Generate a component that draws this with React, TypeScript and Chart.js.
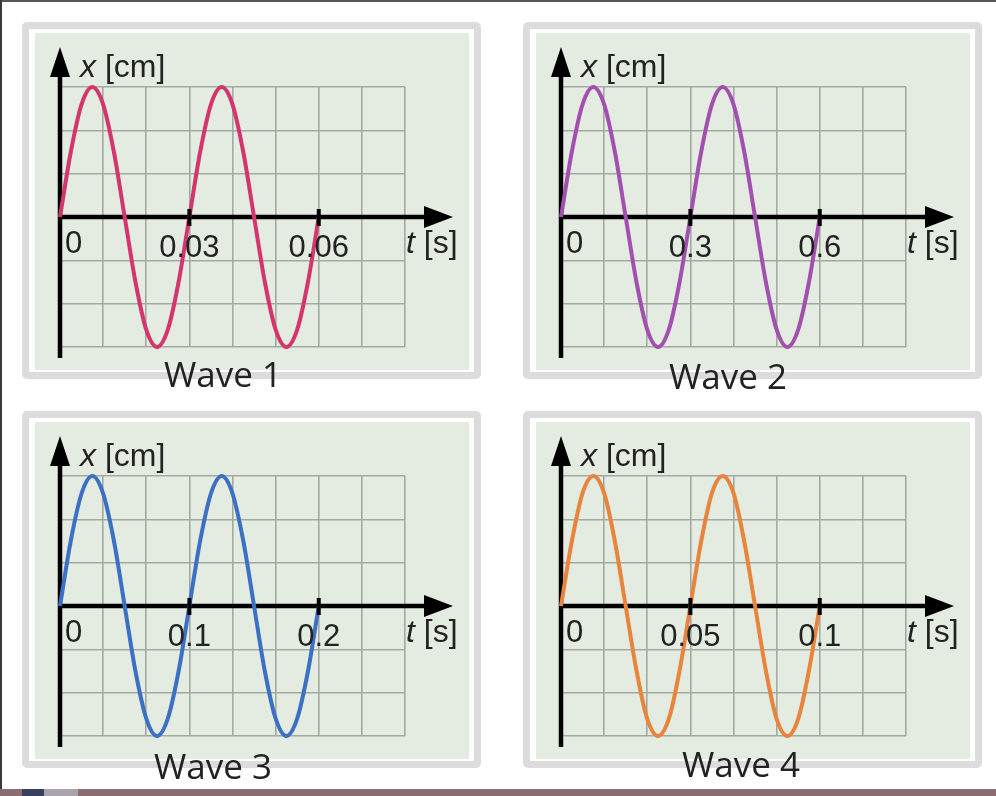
import { useEffect, useRef } from "react";
import { Chart, registerables } from "chart.js";

Chart.register(...registerables);

// values
const waveNames = ["Wave 1", "Wave 2", "Wave 3", "Wave 4"];
const periods = [0.03, 0.3, 0.1, 0.05];
const tickValues = [
  [0.03, 0.06],
  [0.3, 0.6],
  [0.1, 0.2],
  [0.05, 0.1],
];
const tickLabels = [
  ["0.03", "0.06"],
  ["0.3", "0.6"],
  ["0.1", "0.2"],
  ["0.05", "0.1"],
];
const gridSteps = [0.01, 0.1, 0.033333, 0.016667];
const xMax = [0.08, 0.8, 0.266667, 0.133333];
const yGrid = [-3, -2, -1, 0, 1, 2, 3];

// displacement in grid units (cm), same shape for every wave
const displacementCm = [
  0, 1.5, 2.6, 3, 2.6, 1.5, 0, -1.5, -2.6, -3, -2.6, -1.5, 0, 1.5, 2.6, 3, 2.6,
  1.5, 0, -1.5, -2.6, -3, -2.6, -1.5, 0,
];
const wave1Times = [
  0, 0.0025, 0.005, 0.0075, 0.01, 0.0125, 0.015, 0.0175, 0.02, 0.0225, 0.025,
  0.0275, 0.03, 0.0325, 0.035, 0.0375, 0.04, 0.0425, 0.045, 0.0475, 0.05,
  0.0525, 0.055, 0.0575, 0.06,
];
const wave2Times = [
  0, 0.025, 0.05, 0.075, 0.1, 0.125, 0.15, 0.175, 0.2, 0.225, 0.25, 0.275, 0.3,
  0.325, 0.35, 0.375, 0.4, 0.425, 0.45, 0.475, 0.5, 0.525, 0.55, 0.575, 0.6,
];
const wave3Times = [
  0, 0.0083, 0.0167, 0.025, 0.0333, 0.0417, 0.05, 0.0583, 0.0667, 0.075,
  0.0833, 0.0917, 0.1, 0.1083, 0.1167, 0.125, 0.1333, 0.1417, 0.15, 0.1583,
  0.1667, 0.175, 0.1833, 0.1917, 0.2,
];
const wave4Times = [
  0, 0.0042, 0.0083, 0.0125, 0.0167, 0.0208, 0.025, 0.0292, 0.0333, 0.0375,
  0.0417, 0.0458, 0.05, 0.0542, 0.0583, 0.0625, 0.0667, 0.0708, 0.075, 0.0792,
  0.0833, 0.0875, 0.0917, 0.0958, 0.1,
];
const waveTimes = [wave1Times, wave2Times, wave3Times, wave4Times];

// styling / layout
const waveColors = ["#d5356f", "#a34fb0", "#3c70c5", "#e8843b"];
const panelPos = [
  [22, 22],
  [523, 22],
  [22, 411],
  [523, 411],
];
const labelX = [201, 205, 191, 218];
const labelY = [365, 367, 368, 366];

const GRID = "#a1a9a1";
const TEXT = "#222";
const SANS = "'Liberation Sans', Arial, sans-serif";

function drawMixed(
  ctx: CanvasRenderingContext2D,
  italic: string,
  rest: string,
  x: number,
  y: number
) {
  ctx.textAlign = "left";
  ctx.font = `italic 32px ${SANS}`;
  ctx.fillText(italic, x, y);
  const w = ctx.measureText(italic).width;
  ctx.font = `32px ${SANS}`;
  ctx.fillText(rest, x + w, y);
}

function axesPlugin(i: number) {
  return {
    id: "axes" + i,
    beforeDatasetsDraw(chart: any) {
      const { ctx, chartArea: a, scales } = chart;
      const x0 = scales.x.getPixelForValue(0);
      const y0 = scales.y.getPixelForValue(0);
      ctx.save();
      ctx.strokeStyle = "#000";
      ctx.fillStyle = "#000";
      ctx.lineWidth = 4.5;
      ctx.beginPath();
      ctx.moveTo(x0, a.top - 14);
      ctx.lineTo(x0, a.bottom + 11);
      ctx.stroke();
      ctx.beginPath();
      ctx.moveTo(x0 - 2, y0);
      ctx.lineTo(a.right + 22, y0);
      ctx.stroke();
      // arrow heads
      ctx.beginPath();
      ctx.moveTo(x0, a.top - 40);
      ctx.lineTo(x0 - 10, a.top - 10);
      ctx.lineTo(x0 + 10, a.top - 10);
      ctx.closePath();
      ctx.fill();
      ctx.beginPath();
      ctx.moveTo(a.right + 48, y0);
      ctx.lineTo(a.right + 19, y0 - 11);
      ctx.lineTo(a.right + 19, y0 + 11);
      ctx.closePath();
      ctx.fill();
      ctx.restore();
    },
    afterDatasetsDraw(chart: any) {
      const { ctx, chartArea: a, scales } = chart;
      const x0 = scales.x.getPixelForValue(0);
      const y0 = scales.y.getPixelForValue(0);
      ctx.save();
      ctx.strokeStyle = "#000";
      ctx.lineWidth = 4;
      tickValues[i].forEach((v) => {
        const px = scales.x.getPixelForValue(v);
        ctx.beginPath();
        ctx.moveTo(px, y0 - 8);
        ctx.lineTo(px, y0 + 9);
        ctx.stroke();
      });
      ctx.fillStyle = TEXT;
      ctx.textBaseline = "alphabetic";
      ctx.font = `31px ${SANS}`;
      ctx.textAlign = "left";
      ctx.fillText("0", x0 + 5, y0 + 36);
      ctx.textAlign = "center";
      tickValues[i].forEach((v, k) => {
        ctx.fillText(tickLabels[i][k], scales.x.getPixelForValue(v), y0 + 40);
      });
      drawMixed(ctx, "t", " [s]", a.right + 1, y0 + 36);
      drawMixed(ctx, "x", " [cm]", x0 + 20, a.top - 10);
      ctx.font = "35px 'Open Sans', sans-serif";
      ctx.textAlign = "center";
      ctx.fillText(waveNames[i], labelX[i], labelY[i]);
      ctx.restore();
    },
  };
}

function WavePanel({ index }: { index: number }) {
  const canvasRef = useRef<HTMLCanvasElement>(null);

  useEffect(() => {
    if (!canvasRef.current) return;
    const ctx = canvasRef.current.getContext("2d");
    if (!ctx) return;

    const chart = new Chart(ctx, {
      type: "line",
      data: {
        datasets: [
          {
            label: waveNames[index],
            data: waveTimes[index].map((t, k) => ({ x: t, y: displacementCm[k] })),
            borderColor: waveColors[index],
            borderWidth: 4,
            pointRadius: 0,
            cubicInterpolationMode: "monotone",
            fill: false,
            clip: false,
          } as any,
        ],
      },
      options: {
        animation: false,
        responsive: true,
        maintainAspectRatio: false,
        events: [],
        layout: { padding: { left: 38, right: 76, top: 65, bottom: 60 } },
        plugins: { legend: { display: false }, tooltip: { enabled: false } },
        scales: {
          x: {
            type: "linear",
            min: 0,
            max: xMax[index],
            afterBuildTicks: (s: any) => {
              s.ticks = Array.from({ length: 9 }, (_, k) => ({
                value: k * gridSteps[index],
              }));
            },
            afterFit: (s: any) => {
              s.height = 0;
            },
            ticks: { display: false },
            grid: { color: GRID, lineWidth: 1.6, drawTicks: false },
            border: { display: false },
          },
          y: {
            type: "linear",
            min: -3,
            max: 3,
            afterBuildTicks: (s: any) => {
              s.ticks = yGrid.map((v) => ({ value: v }));
            },
            afterFit: (s: any) => {
              s.width = 0;
            },
            ticks: { display: false },
            grid: { color: GRID, lineWidth: 1.6, drawTicks: false },
            border: { display: false },
          },
        },
      },
      plugins: [axesPlugin(index)],
    });

    return () => chart.destroy();
  }, [index]);

  const [left, top] = panelPos[index];
  return (
    <div style={{ position: "absolute", left, top, width: 459, height: 385 }}>
      <div
        style={{
          position: "absolute",
          left: 0,
          top: 0,
          width: 459,
          height: 357,
          boxSizing: "border-box",
          border: "7px solid #dcdcdc",
          borderRadius: 5,
          background: "#fff",
        }}
      />
      <div
        style={{
          position: "absolute",
          left: 13,
          top: 11,
          width: 434,
          height: 337,
          background: "#e4ece2",
        }}
      />
      <div style={{ position: "absolute", left: 0, top: 0, width: 459, height: 385 }}>
        <canvas ref={canvasRef} />
      </div>
    </div>
  );
}

export default function App() {
  return (
    <div
      style={{
        position: "fixed",
        left: 0,
        top: 0,
        width: 996,
        height: 796,
        background: "#fff",
        overflow: "hidden",
      }}
    >
      <div style={{ position: "absolute", left: 0, top: 0, width: 996, height: 2, background: "#555" }} />
      <div style={{ position: "absolute", left: 0, top: 0, width: 2, height: 796, background: "#3a3a3a" }} />
      {periods.map((_, i) => (
        <WavePanel key={i} index={i} />
      ))}
      <div style={{ position: "absolute", left: 0, top: 789, width: 996, height: 7, background: "#8c6d73" }} />
      <div style={{ position: "absolute", left: 22, top: 789, width: 22, height: 7, background: "#3b3f5e" }} />
      <div style={{ position: "absolute", left: 44, top: 789, width: 34, height: 7, background: "#a9a3ad" }} />
    </div>
  );
}
